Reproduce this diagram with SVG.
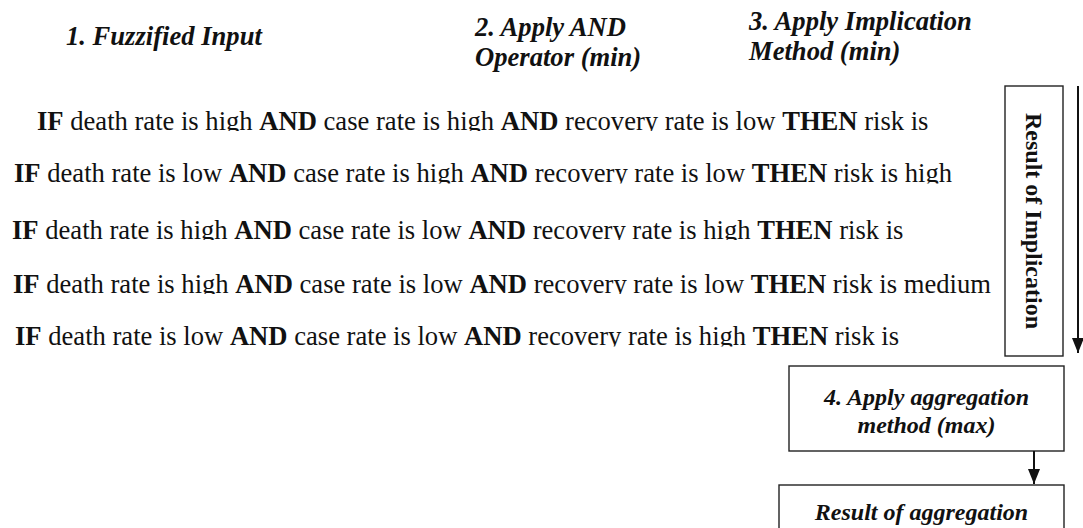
<svg xmlns="http://www.w3.org/2000/svg" width="1083" height="528" viewBox="0 0 1083 528">
  <style>
    .hdr { font-family: "Liberation Serif", "Times New Roman", serif; font-size: 26.6px; font-weight: bold; font-style: italic; fill: #111; }
    .rule { font-family: "Liberation Serif", "Times New Roman", serif; font-size: 26.6px; fill: #111; }
    .b { font-weight: bold; }
    .box { fill: #fff; stroke: #222; stroke-width: 1.4; }
    .boxtxt { font-family: "Liberation Serif", "Times New Roman", serif; font-size: 24px; font-weight: bold; fill: #111; }
    .it { font-style: italic; }
    .wire { stroke: #111; stroke-width: 2; fill: none; }
  </style>
  <defs>
    <marker id="head" markerUnits="userSpaceOnUse" viewBox="0 0 15 12" refX="15" refY="6" markerWidth="15" markerHeight="12" orient="auto">
      <path d="M0,0 L15,6 L0,12 z" fill="#111"/>
    </marker>
    <!-- each rule line is cut just under its baseline -->
    <clipPath id="c1"><rect x="0" y="95" width="1000" height="36"/></clipPath>
    <clipPath id="c2"><rect x="0" y="148" width="1000" height="35.5"/></clipPath>
    <clipPath id="c3"><rect x="0" y="205" width="1000" height="35"/></clipPath>
    <clipPath id="c4"><rect x="0" y="259" width="1000" height="35"/></clipPath>
    <clipPath id="c5"><rect x="0" y="312" width="1000" height="34.5"/></clipPath>
  </defs>

  <rect width="1083" height="528" fill="#fff"/>

  <!-- step headings -->
  <g id="step1">
    <text class="hdr" x="66" y="45">1. Fuzzified Input</text>
  </g>
  <g id="step2">
    <text class="hdr" x="475" y="36">2. Apply AND</text>
    <text class="hdr" x="475" y="66">Operator (min)</text>
  </g>
  <g id="step3">
    <text class="hdr" x="749" y="30">3. Apply Implication</text>
    <text class="hdr" x="749" y="60">Method (min)</text>
  </g>

  <!-- fuzzy rules -->
  <g id="rules">
    <text class="rule" x="37" y="129.5" clip-path="url(#c1)"><tspan class="b">IF</tspan> death rate is high <tspan class="b">AND</tspan> case rate is high <tspan class="b">AND</tspan> recovery rate is low <tspan class="b">THEN</tspan> risk is</text>
    <text class="rule" x="14" y="182" clip-path="url(#c2)"><tspan class="b">IF</tspan> death rate is low <tspan class="b">AND</tspan> case rate is high <tspan class="b">AND</tspan> recovery rate is low <tspan class="b">THEN</tspan> risk is high</text>
    <text class="rule" x="12" y="238.5" clip-path="url(#c3)"><tspan class="b">IF</tspan> death rate is high <tspan class="b">AND</tspan> case rate is low <tspan class="b">AND</tspan> recovery rate is high <tspan class="b">THEN</tspan> risk is</text>
    <text class="rule" x="13" y="292.5" clip-path="url(#c4)"><tspan class="b">IF</tspan> death rate is high <tspan class="b">AND</tspan> case rate is low <tspan class="b">AND</tspan> recovery rate is low <tspan class="b">THEN</tspan> risk is medium</text>
    <text class="rule" x="15" y="345" clip-path="url(#c5)"><tspan class="b">IF</tspan> death rate is low <tspan class="b">AND</tspan> case rate is low <tspan class="b">AND</tspan> recovery rate is high <tspan class="b">THEN</tspan> risk is</text>
  </g>

  <!-- vertical result box -->
  <g id="implication">
    <rect class="box" x="1005" y="86" width="58" height="270"/>
    <text class="boxtxt" text-anchor="middle" transform="translate(1026,221) rotate(90)">Result of Implication</text>
  </g>

  <g id="aggregation">
    <rect class="box" x="789" y="366" width="275" height="85"/>
    <text class="boxtxt it" x="926.5" y="405" text-anchor="middle">4. Apply aggregation</text>
    <text class="boxtxt it" x="926.5" y="433" text-anchor="middle">method (max)</text>
  </g>

  <g id="result">
    <rect class="box" x="779" y="485" width="285" height="60"/>
    <text class="boxtxt it" x="921.5" y="520" text-anchor="middle">Result of aggregation</text>
  </g>

  <!-- connectors -->
  <g id="connectors">
    <line class="wire" x1="1078" y1="86" x2="1078" y2="353" marker-end="url(#head)"/>
    <line class="wire" x1="1034" y1="451" x2="1034" y2="484" marker-end="url(#head)"/>
  </g>
</svg>
